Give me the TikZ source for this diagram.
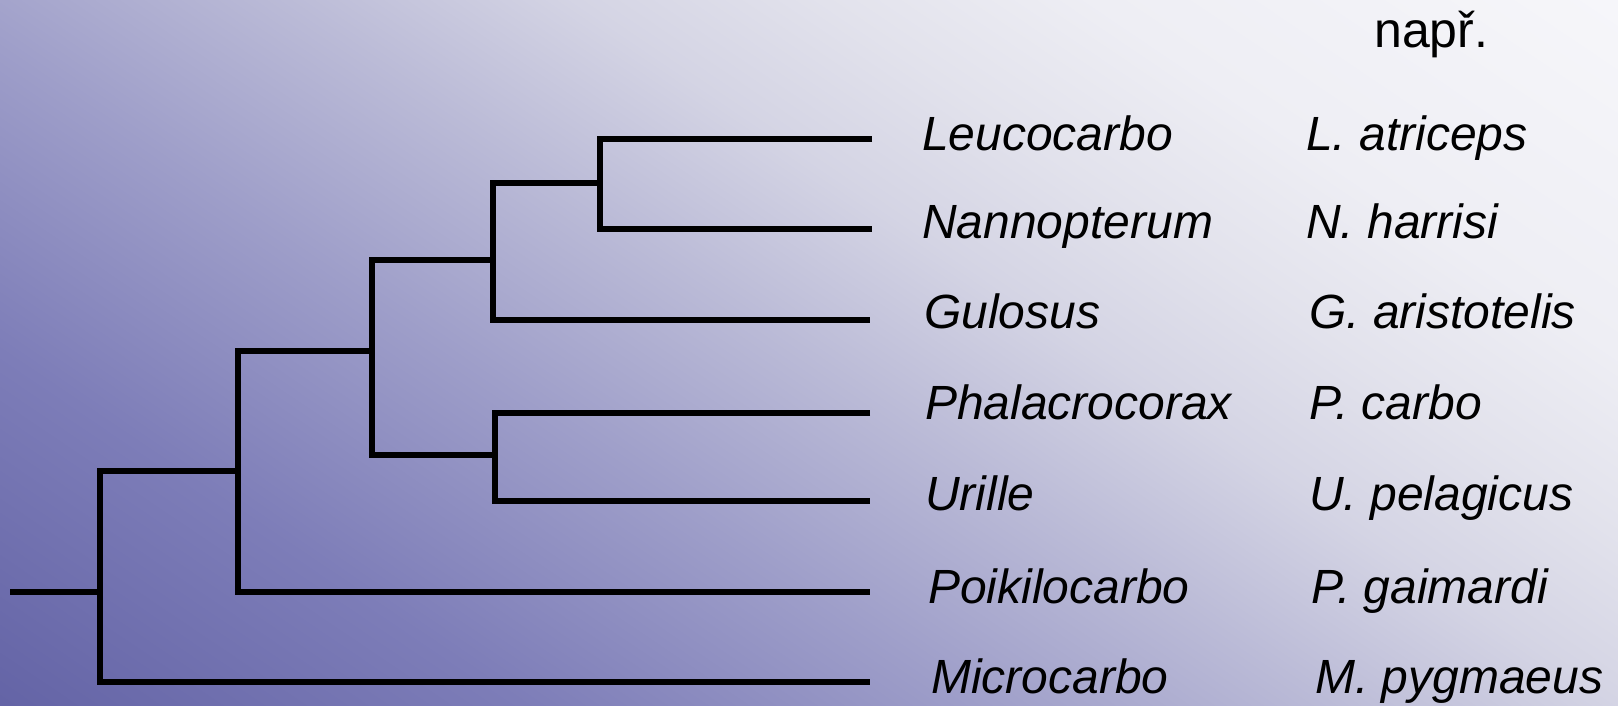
\documentclass[tikz,border=0pt]{standalone}
\usepackage{fontspec}
\setmainfont{Liberation Sans}
\usepackage{tikz}
\definecolor{bgA}{RGB}{100,100,166}
\definecolor{bgB}{RGB}{125,125,184}
\definecolor{bgC}{RGB}{158,158,201}
\definecolor{bgD}{RGB}{187,187,215}
\definecolor{bgE}{RGB}{212,212,228}
\definecolor{bgF}{RGB}{226,226,236}
\definecolor{bgG}{RGB}{238,238,244}
\definecolor{bgH}{RGB}{246,246,250}
\pgfdeclarehorizontalshading{bgshade}{100bp}{color(0bp)=(bgA); color(27bp)=(bgA);
	color(36bp)=(bgB); color(43.8bp)=(bgC); color(50bp)=(bgD); color(55bp)=(bgE);
	color(59.3bp)=(bgF); color(64bp)=(bgG); color(73bp)=(bgH); color(100bp)=(bgH)}
\tikzset{
	branch/.style={draw=black,line width=5.4pt,line join=miter},
	genus/.style={anchor=base west,inner sep=0pt,font=\fontsize{48}{58}\selectfont\itshape},
	species/.style={anchor=base west,inner sep=0pt,font=\fontsize{48}{58}\selectfont\itshape},
	headlbl/.style={anchor=base west,inner sep=0pt,font=\fontsize{50}{60}\selectfont}
}

\begin{document}
\begin{tikzpicture}[x=1pt,y=-1pt]
			\useasboundingbox (0,0) rectangle (1618,705);
			\begin{scope}
				\clip (0,0) rectangle (1618,705);
				\shade[shading=bgshade,shading angle=56] (0,-456.5) rectangle (1618,1161.5);
			\end{scope}
			% labels
			\node[headlbl] (napr) at (1374,47) {např.};
			\node[genus] (leuc) at (922,150) {Leucocarbo};
			\node[genus] (nann) at (922,238) {Nannopterum};
			\node[genus] (gulo) at (924,328) {Gulosus};
			\node[genus] (phal) at (925,419) {Phalacrocorax};
			\node[genus] (uril) at (925,510) {Urille};
			\node[genus] (poik) at (928,603) {Poikilocarbo};
			\node[genus] (micr) at (931,693) {Microcarbo};
			\node[species] (latr) at (1306,150) {L. atriceps};
			\node[species] (nhar) at (1306,238) {N. harrisi};
			\node[species] (gari) at (1309,328) {G. aristotelis};
			\node[species] (pcar) at (1309,419) {P. carbo};
			\node[species] (upel) at (1309,510) {U. pelagicus};
			\node[species] (pgai) at (1311,603) {P. gaimardi};
			\node[species] (mpyg) at (1315,693) {M. pygmaeus};
			% tips and inner nodes
			\coordinate (tLeu) at (872,139);
			\coordinate (tNan) at (872,229);
			\coordinate (tGul) at (870,320);
			\coordinate (tPha) at (870,413);
			\coordinate (tUri) at (870,501);
			\coordinate (tPoi) at (870,592);
			\coordinate (tMic) at (870,682);
			\coordinate (rt) at (10,592);
			\coordinate (n0) at (100,592);
			\coordinate (n1) at (238,471);
			\coordinate (n2) at (372,351);
			\coordinate (n3) at (493,260);
			\coordinate (n4) at (600,183);
			\coordinate (n5) at (495,455);
			% tree
			\draw[branch] (rt) -- (n0);
			\draw[branch] (n1) -| (n0) |- (tMic);
			\draw[branch] (n2) -| (n1) |- (tPoi);
			\draw[branch] (n3) -| (n2) |- (n5);
			\draw[branch] (tPha) -| (n5) |- (tUri);
			\draw[branch] (n4) -| (n3) |- (tGul);
			\draw[branch] (tLeu) -| (n4) |- (tNan);
		\end{tikzpicture}
\end{document}
